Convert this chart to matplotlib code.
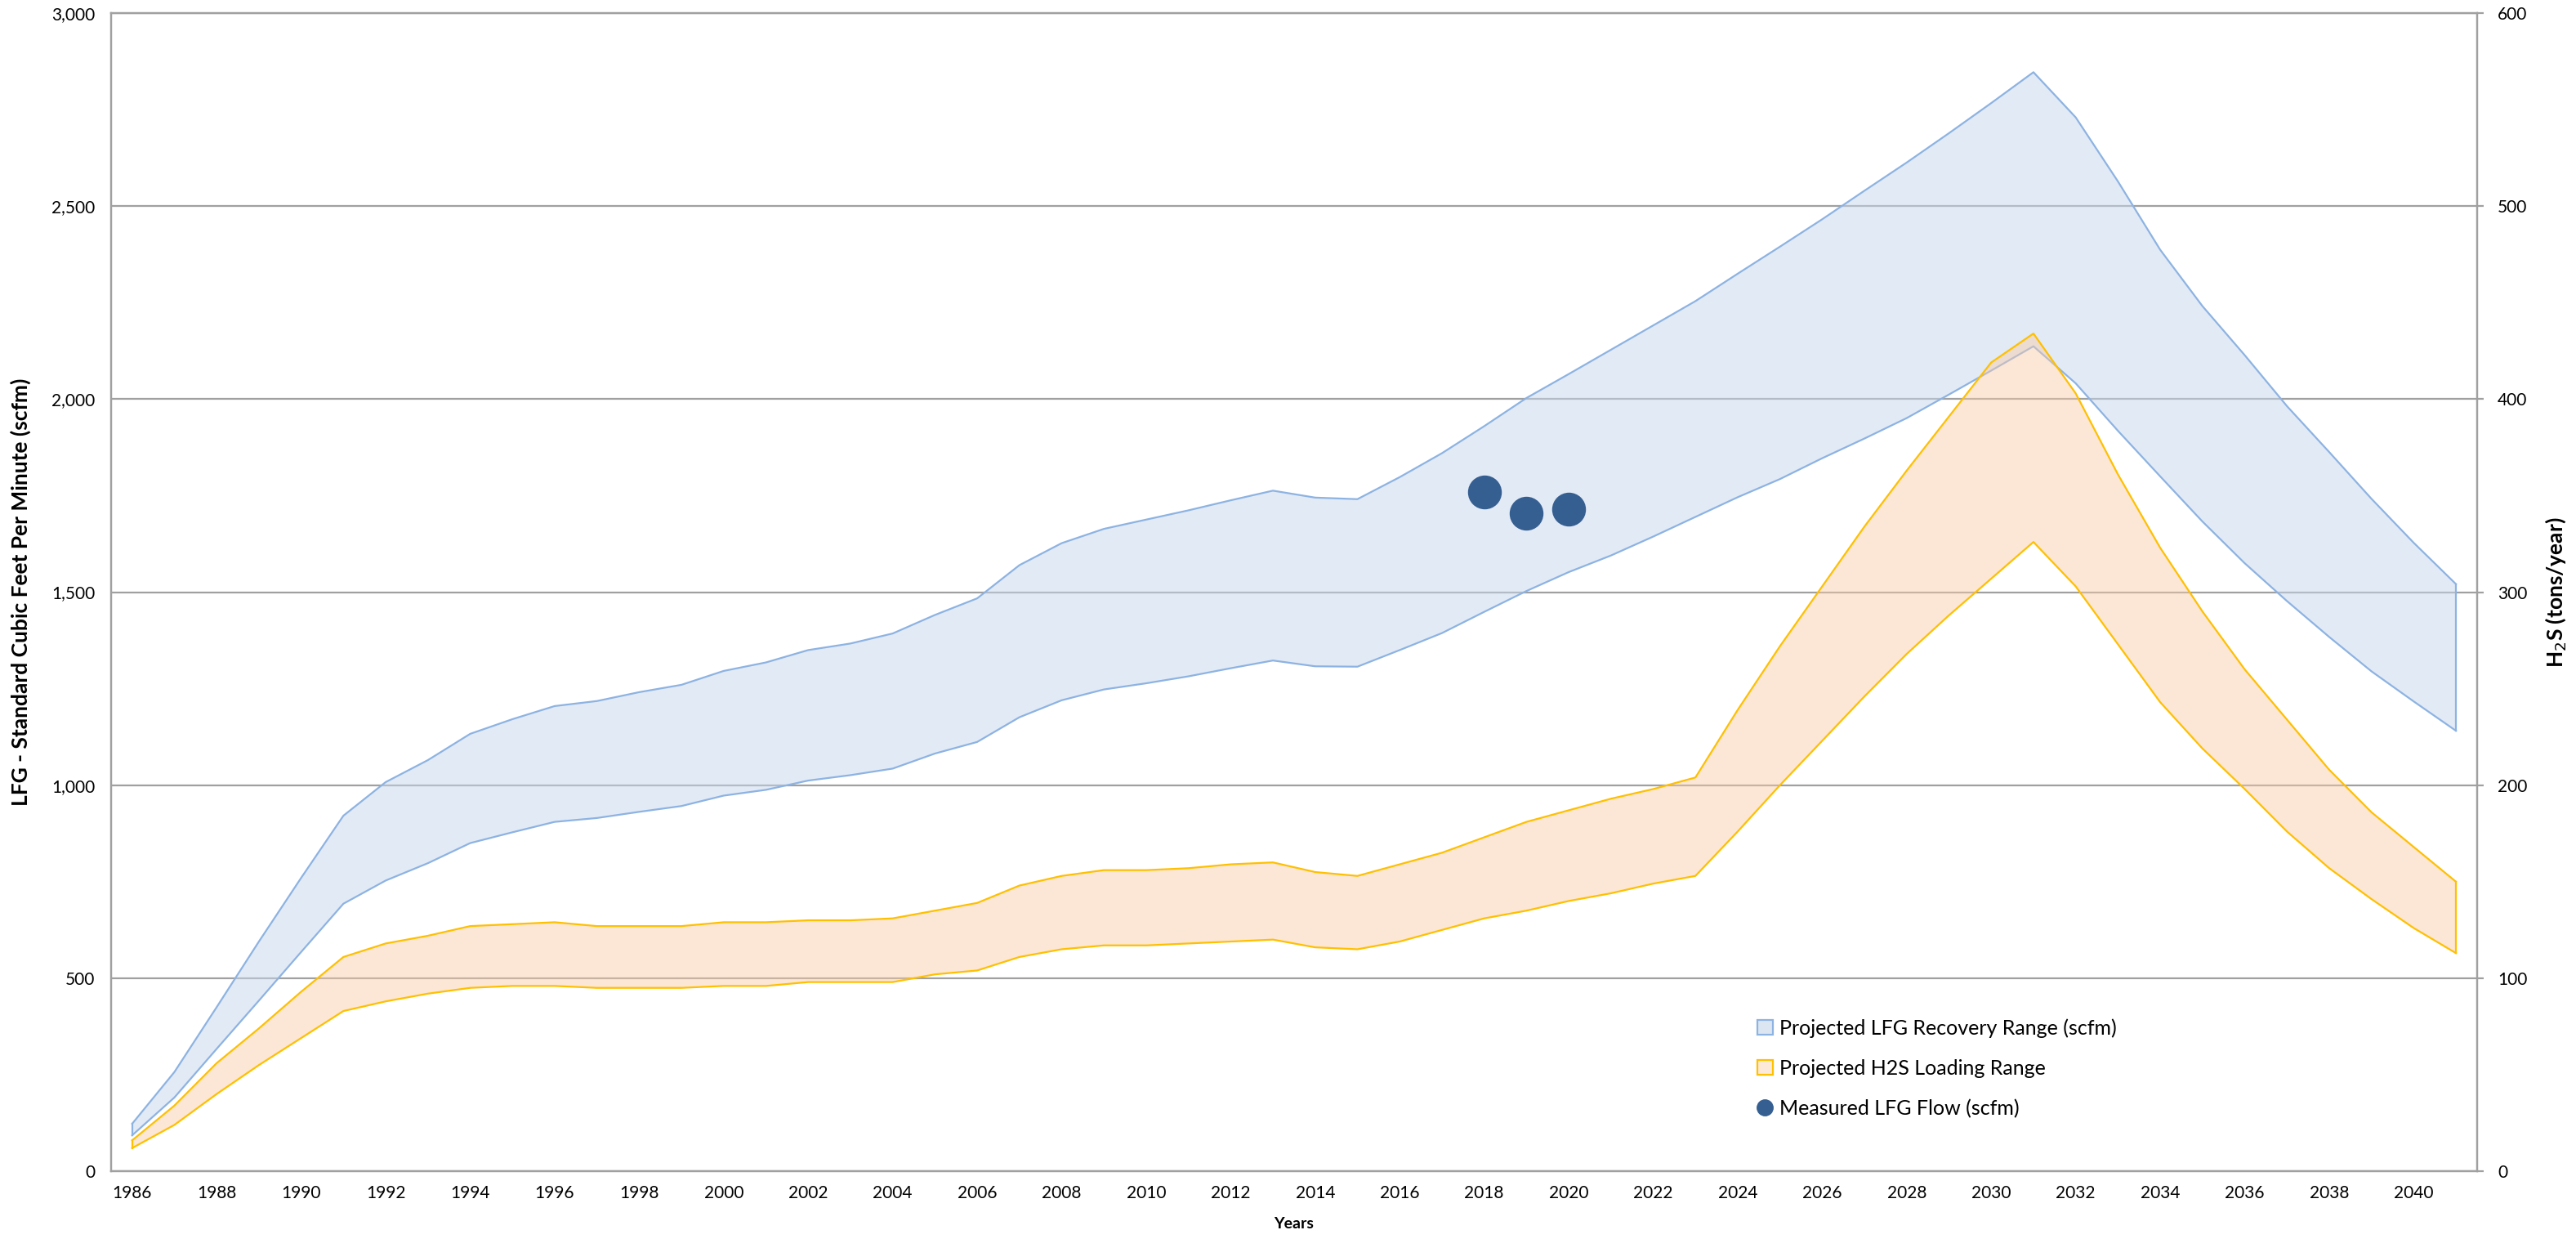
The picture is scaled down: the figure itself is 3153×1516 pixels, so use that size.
import matplotlib
matplotlib.use("Agg")
import matplotlib.pyplot as plt
from matplotlib.patches import Patch
from matplotlib.lines import Line2D
from matplotlib.ticker import FuncFormatter, MultipleLocator

plt.rcParams["font.family"] = ["Lato", "DejaVu Sans"]

years = list(range(1986, 2042))

# projected LFG recovery range (scfm)
lfg_high = [123, 257, 425, 595, 760, 921, 1008, 1065, 1133, 1171, 1205, 1218, 1241, 1260,
            1296, 1318, 1350, 1367, 1393, 1441, 1484, 1570, 1627, 1664, 1688, 1712, 1738,
            1763, 1745, 1741, 1798, 1860, 1930, 2003, 2065, 2128, 2191, 2254, 2325, 2395,
            2466, 2540, 2613, 2689, 2767, 2847, 2730, 2564, 2387, 2241, 2114, 1982, 1863,
            1742, 1628, 1521]
lfg_low = [93, 191, 317, 442, 568, 693, 753, 798, 850, 878, 905, 915, 931, 946, 973, 988,
           1012, 1026, 1043, 1082, 1112, 1176, 1220, 1248, 1264, 1282, 1303, 1323, 1308,
           1307, 1350, 1394, 1449, 1503, 1552, 1595, 1644, 1695, 1746, 1793, 1847, 1898,
           1951, 2012, 2074, 2137, 2041, 1918, 1800, 1683, 1575, 1477, 1384, 1295, 1217, 1141]

# projected H2S loading range (tons/year)
h2s_high = [16, 34, 56, 74, 93, 111, 118, 122, 127, 128, 129, 127, 127, 127, 129, 129, 130,
            130, 131, 135, 139, 148, 153, 156, 156, 157, 159, 160, 155, 153, 159, 165, 173,
            181, 187, 193, 198, 204, 239, 272, 303, 334, 363, 391, 419, 434, 403, 361, 323,
            290, 260, 234, 208, 186, 168, 150]
h2s_low = [12, 24, 40, 55, 69, 83, 88, 92, 95, 96, 96, 95, 95, 95, 96, 96, 98, 98, 98, 102,
           104, 111, 115, 117, 117, 118, 119, 120, 116, 115, 119, 125, 131, 135, 140, 144,
           149, 153, 176, 200, 223, 246, 268, 288, 307, 326, 303, 273, 243, 219, 198, 176,
           157, 141, 126, 113]

# measured LFG flow (scfm)
meas_years = [2018, 2019, 2020]
meas_flow = [1760, 1705, 1715]

blue_edge = "#8db3e2"
orange_edge = "#ffc000"
dot_color = "#365f91"
grid_color = "#a0a0a0"

fig = plt.figure(figsize=(31.53, 15.16), dpi=100)
ax = fig.add_axes([0.0431, 0.0547, 0.9185, 0.9347])
ax2 = ax.twinx()

ax.fill_between(years, lfg_low, lfg_high, facecolor="#c6d6ee", alpha=0.5,
                edgecolor="none", zorder=2)
ax.plot(years, lfg_high, color=blue_edge, lw=1.6, zorder=3)
ax.plot(years, lfg_low, color=blue_edge, lw=1.6, zorder=3)
ax.plot([years[0]] * 2, [lfg_low[0], lfg_high[0]], color=blue_edge, lw=1.6, zorder=3)
ax.plot([years[-1]] * 2, [lfg_low[-1], lfg_high[-1]], color=blue_edge, lw=1.6, zorder=3)

ax2.fill_between(years, h2s_low, h2s_high, facecolor="#f9c9a5", alpha=0.45,
                 edgecolor="none", zorder=2)
ax2.plot(years, h2s_high, color=orange_edge, lw=1.6, zorder=3)
ax2.plot(years, h2s_low, color=orange_edge, lw=1.6, zorder=3)
ax2.plot([years[0]] * 2, [h2s_low[0], h2s_high[0]], color=orange_edge, lw=1.6, zorder=3)
ax2.plot([years[-1]] * 2, [h2s_low[-1], h2s_high[-1]], color=orange_edge, lw=1.6, zorder=3)

# measured flow is in scfm, drawn on the tons/year axis (600 <-> 3000)
ax2.scatter(meas_years, [v / 5 for v in meas_flow], s=830, color=dot_color, zorder=5)

ax.set_xlim(1985.5, 2041.5)
ax.set_ylim(0, 3000)
ax2.set_ylim(0, 600)
ax.set_xticks(list(range(1986, 2042, 2)))
ax.yaxis.set_major_locator(MultipleLocator(500))
ax.yaxis.set_major_formatter(FuncFormatter(lambda v, p: f"{int(v):,}"))
ax2.yaxis.set_major_locator(MultipleLocator(100))

ax.grid(axis="y", color=grid_color, lw=1.6, zorder=1)
ax.set_axisbelow(True)

for a in (ax, ax2):
    for s in a.spines.values():
        s.set_color(grid_color)
        s.set_linewidth(1.6)

ax.tick_params(axis="y", length=0, labelsize=15, pad=14)
ax.tick_params(axis="x", length=0, labelsize=15, pad=12)
ax2.tick_params(axis="y", length=6, width=1.6, color=grid_color, labelsize=15, pad=12)

ax.set_xlabel("Years", fontsize=14, fontweight="bold", labelpad=14)
ax.set_ylabel("LFG - Standard Cubic Feet Per Minute (scfm)", fontsize=19,
              fontweight="bold", labelpad=18)
ax2.set_ylabel(r"H$_2$S (tons/year)", fontsize=19, fontweight="bold", labelpad=14)

handles = [
    Patch(facecolor="#dce6f2", edgecolor=blue_edge, lw=1.6),
    Patch(facecolor="#fde9d9", edgecolor=orange_edge, lw=1.6),
    Line2D([], [], marker="o", ls="none", color=dot_color, markersize=14),
]
labels = ["Projected LFG Recovery Range (scfm)", "Projected H2S Loading Range",
          "Measured LFG Flow (scfm)"]
fig.legend(handles, labels, loc="upper left", bbox_to_anchor=(0.675, 0.193),
           frameon=False, fontsize=18, handlelength=0.75, handleheight=0.75,
           handletextpad=0.35, labelspacing=1.05)

fig.savefig("out.png", dpi=100)
